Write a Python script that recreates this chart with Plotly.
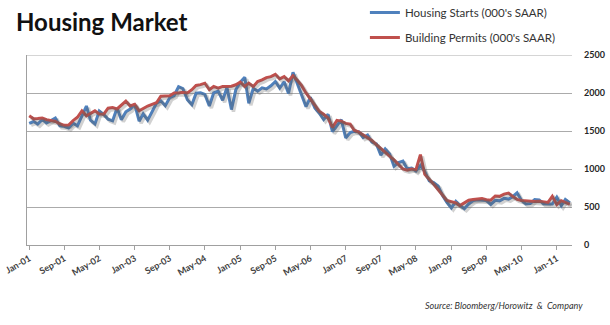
import pandas as pd
import plotly.graph_objects as go

# ---- data (000's SAAR), monthly Jan-2001 .. Apr-2011 ----
start_month = "2001-01-01"
n_months = 124

housing_starts = [
    1600, 1625, 1590, 1649, 1605, 1636, 1670, 1567, 1562, 1540, 1602, 1568,
    1698, 1829, 1642, 1592, 1764, 1717, 1655, 1633, 1804, 1648, 1753, 1788,
    1853, 1629, 1726, 1643, 1751, 1867, 1897, 1833, 1939, 1967, 2083, 2057,
    1911, 1846, 1998, 2003, 1981, 1828, 2002, 2024, 1905, 2072, 1782, 2042,
    2144, 2207, 1864, 2061, 2025, 2068, 2054, 2095, 2151, 2065, 2147, 1994,
    2273, 2119, 1969, 1821, 1942, 1802, 1737, 1650, 1720, 1491, 1570, 1649,
    1409, 1480, 1495, 1490, 1415, 1448, 1354, 1330, 1183, 1264, 1197, 1037,
    1084, 1103, 1005, 1013, 973, 1046, 965, 844, 820, 777, 652, 560,
    488, 574, 521, 478, 540, 585, 594, 586, 585, 534, 588, 581,
    614, 604, 636, 687, 588, 539, 546, 599, 594, 543, 545, 539,
    630, 517, 600, 554,
]

building_permits = [
    1700, 1660, 1665, 1672, 1650, 1640, 1625, 1595, 1575, 1578, 1637, 1680,
    1765, 1700, 1735, 1765, 1725, 1722, 1800, 1808, 1790, 1840, 1893, 1829,
    1850, 1765, 1800, 1829, 1850, 1872, 1957, 1960, 1965, 2000, 2000, 2010,
    2000, 2043, 2099, 2110, 2129, 2043, 2086, 2065, 2086, 2086, 2090, 2108,
    2142, 2086, 2129, 2086, 2150, 2172, 2203, 2215, 2246, 2185, 2215, 2160,
    2228, 2165, 2100, 2000, 1920, 1830, 1760, 1720, 1670, 1547, 1640, 1630,
    1600, 1590, 1510, 1485, 1450, 1420, 1375, 1320, 1270, 1220, 1180, 1120,
    1060, 1000, 985, 1000, 990, 1190, 930, 870, 800, 730, 650, 585,
    570, 553, 518, 555, 590, 600, 605, 610, 596, 590, 645, 640,
    670, 684, 640, 600, 585, 580, 575, 572, 575, 570, 560, 640,
    531, 583, 565, 535,
]

tick_labels = ["Jan-01", "Sep-01", "May-02", "Jan-03", "Sep-03", "May-04",
               "Jan-05", "Sep-05", "May-06", "Jan-07", "Sep-07", "May-08",
               "Jan-09", "Sep-09", "May-10", "Jan-11"]

y_ticks = [0, 500, 1000, 1500, 2000, 2500]

series_names = ["Housing Starts (000's SAAR)", "Building Permits (000's SAAR)"]
series_colors = ["#4F81BD", "#C0504D"]

# ---- build ----
months = pd.date_range(start_month, periods=n_months, freq="MS")
tick_vals = [pd.to_datetime(t, format="%b-%y") for t in tick_labels]

half = pd.Timedelta(days=15.2)
x_range = [months[0] - half, months[-1] + half]
y_range = [0, 2500]

# plot area size in px (for the drop-shadow offset axes)
plot_w, plot_h = 545, 190
span = x_range[1] - x_range[0]
dx = span * (2.0 / plot_w)
dy = (y_range[1] - y_range[0]) * (2.0 / plot_h)

fig = go.Figure()

# drop shadows (same data on slightly offset overlay axes)
for vals in (housing_starts, building_permits):
    fig.add_trace(go.Scatter(
        x=months, y=vals, mode="lines", xaxis="x2", yaxis="y2",
        line=dict(color="rgba(90,90,90,0.28)", width=3.5),
        hoverinfo="skip", showlegend=False))

for i, (name, vals) in enumerate(zip(series_names, [housing_starts, building_permits])):
    fig.add_trace(go.Scatter(
        x=months, y=vals, mode="lines", name=name,
        legendgroup=f"g{i}",
        line=dict(color=series_colors[i], width=3)))

fig.update_layout(
    width=610, height=325,
    margin=dict(l=27, r=38, t=55, b=80, autoexpand=False),
    paper_bgcolor="white", plot_bgcolor="white",
    font=dict(family="Lato, 'Open Sans', sans-serif", color="#333333"),
    showlegend=True,
    legend=dict(
        x=0.62, y=1.30, xanchor="left", yanchor="top",
        bgcolor="rgba(0,0,0,0)", itemwidth=30,
        tracegroupgap=6, traceorder="grouped",
        font=dict(size=11.5, color="#333333"),
    ),
    xaxis=dict(
        type="date", range=x_range,
        tickmode="array", tickvals=tick_vals, ticktext=tick_labels,
        tickangle=-30, tickfont=dict(size=9, color="#404040", weight="bold"),
        ticks="outside", ticklen=4, tickcolor="#A0A0A0",
        showgrid=False, showline=True, linecolor="#A0A0A0", linewidth=1,
        zeroline=False,
    ),
    yaxis=dict(
        range=y_range, side="right",
        tickmode="array", tickvals=y_ticks,
        tickfont=dict(size=9, color="#262626", weight="bold"),
        ticklabelstandoff=11,
        showgrid=True, gridcolor="#ABABAB", gridwidth=1.2,
        showline=False, zeroline=False, ticks="",
    ),
    xaxis2=dict(
        type="date", overlaying="x", anchor="y2",
        range=[x_range[0] - dx, x_range[1] - dx],
        visible=False,
    ),
    yaxis2=dict(
        overlaying="y", anchor="x", side="left",
        range=[y_range[0] + dy, y_range[1] + dy],
        showticklabels=False, showgrid=False, zeroline=False, ticks="",
        showline=True, linecolor="#A0A0A0", linewidth=1,
    ),
    shapes=[
        # top gridline (Plotly omits grid lines that sit on the plot edge)
        dict(type="line", xref="paper", yref="y", x0=0, x1=1,
             y0=y_ticks[-1], y1=y_ticks[-1],
             line=dict(color="#ABABAB", width=1.2), layer="below"),
    ],
    annotations=[
        dict(text="<b>Housing Market</b>", xref="paper", yref="paper",
             x=-0.024, y=1.175, xanchor="left", yanchor="middle",
             showarrow=False, font=dict(size=24, color="#111111")),
        dict(text="<i>Source: Bloomberg/Horowitz  &  Company</i>",
             xref="paper", yref="paper", x=1.023, y=-0.32,
             xanchor="right", yanchor="middle", showarrow=False,
             font=dict(size=9, color="#333333")),
    ],
)

fig.write_html("out.html")
